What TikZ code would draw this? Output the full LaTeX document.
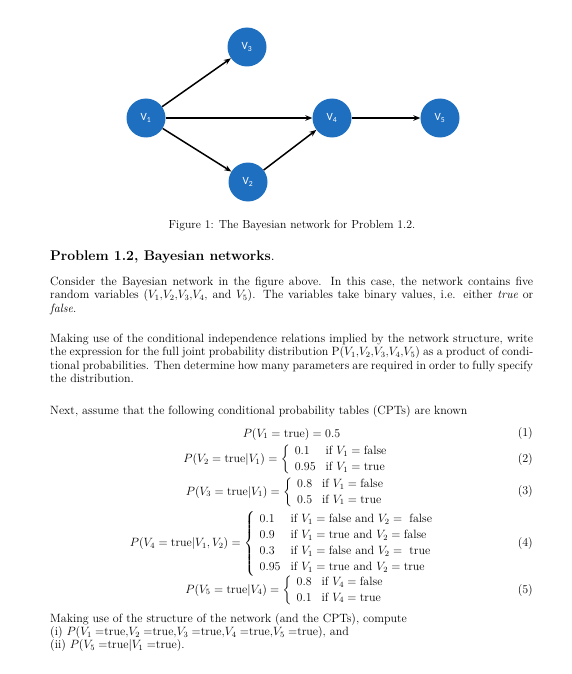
\documentclass[tikz,border=0pt]{standalone}
\usepackage{amsmath}
\usepackage{fontspec}
\newfontfamily\varfont{Carlito}
\usetikzlibrary{arrows.meta}

\definecolor{netblue}{RGB}{31,111,193}

\tikzset{
	var/.style={circle, fill=netblue, minimum size=39pt, inner sep=0pt, text=white,
		font=\varfont\fontsize{11}{11}\selectfont},
	edge/.style={-{Stealth[length=7pt,width=5.5pt]}, line width=1.5pt},
	body/.style={inner sep=0pt, font=\fontsize{12}{13.3}\selectfont},
	para/.style={body, anchor=north west, text width=483pt, align=justify},
	eqn/.style={body, anchor=center},
	eqno/.style={body, anchor=east},
}
\renewcommand{\arraystretch}{1.2}

\begin{document}
\begin{tikzpicture}[x=1pt, y=-1pt]

	\useasboundingbox (0,0) rectangle (572,674);

	% the network
	\node[var] (v1) at (146,118) {V\textsubscript{1}};
	\node[var] (v3) at (247,47)  {V\textsubscript{3}};
	\node[var] (v2) at (248,182) {V\textsubscript{2}};
	\node[var] (v4) at (332,118) {V\textsubscript{4}};
	\node[var] (v5) at (440,118) {V\textsubscript{5}};

	\draw[edge] (v1) -- (v3);
	\draw[edge] (v1) -- (v4);
	\draw[edge] (v1) -- (v2);
	\draw[edge] (v2) -- (v4);
	\draw[edge] (v4) -- (v5);

	\node[body, anchor=base, font=\fontsize{11.7}{14}\selectfont] (caption) at (292,228)
		{Figure 1: The Bayesian network for Problem 1.2.};

	\node[inner sep=0pt, anchor=base west, font=\bfseries\fontsize{14}{16}\selectfont] (heading) at (50,260)
		{Problem 1.2, Bayesian networks{\mdseries.}};

	\node[para] (intro) at (50,277)
		{Consider the Bayesian network in the figure above.  In this case, the network contains five\linebreak
		random variables ($V_1$,$V_2$,$V_3$,$V_4$, and $V_5$). The variables take binary values, i.e. either \textit{true} or\linebreak
		\textit{false}.};

	\node[para] (joint) at (50,334)
		{Making use of the conditional independence relations implied by the network structure, write\linebreak
		the expression for the full joint probability distribution P($V_1$,$V_2$,$V_3$,$V_4$,$V_5$) as a product of condi-\linebreak
		tional probabilities. Then determine how many parameters are required in order to fully specify\linebreak
		the distribution.};

	\node[body, anchor=base west] (next) at (50,414)
		{Next, assume that the following conditional probability tables (CPTs) are known};

	% the CPTs
	\node[eqn] (cpt1) at (291.5,434) {$P(V_1=\mathrm{true})=0.5$};
	\node[eqn] (cpt2) at (288,459.5)
		{$P(V_2=\mathrm{true}|V_1)=\left\{\begin{array}{ll}
			0.1 & \text{if } V_1=\mathrm{false}\\
			0.95 & \text{if } V_1=\mathrm{true}
		\end{array}\right.$};
	\node[eqn] (cpt3) at (287.5,492)
		{$P(V_3=\mathrm{true}|V_1)=\left\{\begin{array}{ll}
			0.8 & \text{if } V_1=\mathrm{false}\\
			0.5 & \text{if } V_1=\mathrm{true}
		\end{array}\right.$};
	\node[eqn] (cpt4) at (284,543.5)
		{$P(V_4=\mathrm{true}|V_1,V_2)=\left\{\begin{array}{ll}
			0.1 & \text{if } V_1=\text{false and } V_2=\ \text{false}\\
			0.9 & \text{if } V_1=\text{true and } V_2=\text{false}\\
			0.3 & \text{if } V_1=\text{false and } V_2=\ \text{true}\\
			0.95 & \text{if } V_1=\text{true and } V_2=\text{true}
		\end{array}\right.$};
	\node[eqn] (cpt5) at (287,590)
		{$P(V_5=\mathrm{true}|V_4)=\left\{\begin{array}{ll}
			0.8 & \text{if } V_4=\mathrm{false}\\
			0.1 & \text{if } V_4=\mathrm{true}
		\end{array}\right.$};

	\foreach \n/\y in {1/434, 2/459.5, 3/492, 4/543.5, 5/590}
		\node[eqno] (num\n) at (533,\y) {(\n)};

	\node[body, anchor=north west, align=left] (tasks) at (50,613)
		{Making use of the structure of the network (and the CPTs), compute\\
		(i) $P(V_1=$true,$V_2=$true,$V_3=$true,$V_4=$true,$V_5=$true), and\\
		(ii) $P(V_5=$true$|V_1=$true).};

\end{tikzpicture}
\end{document}
